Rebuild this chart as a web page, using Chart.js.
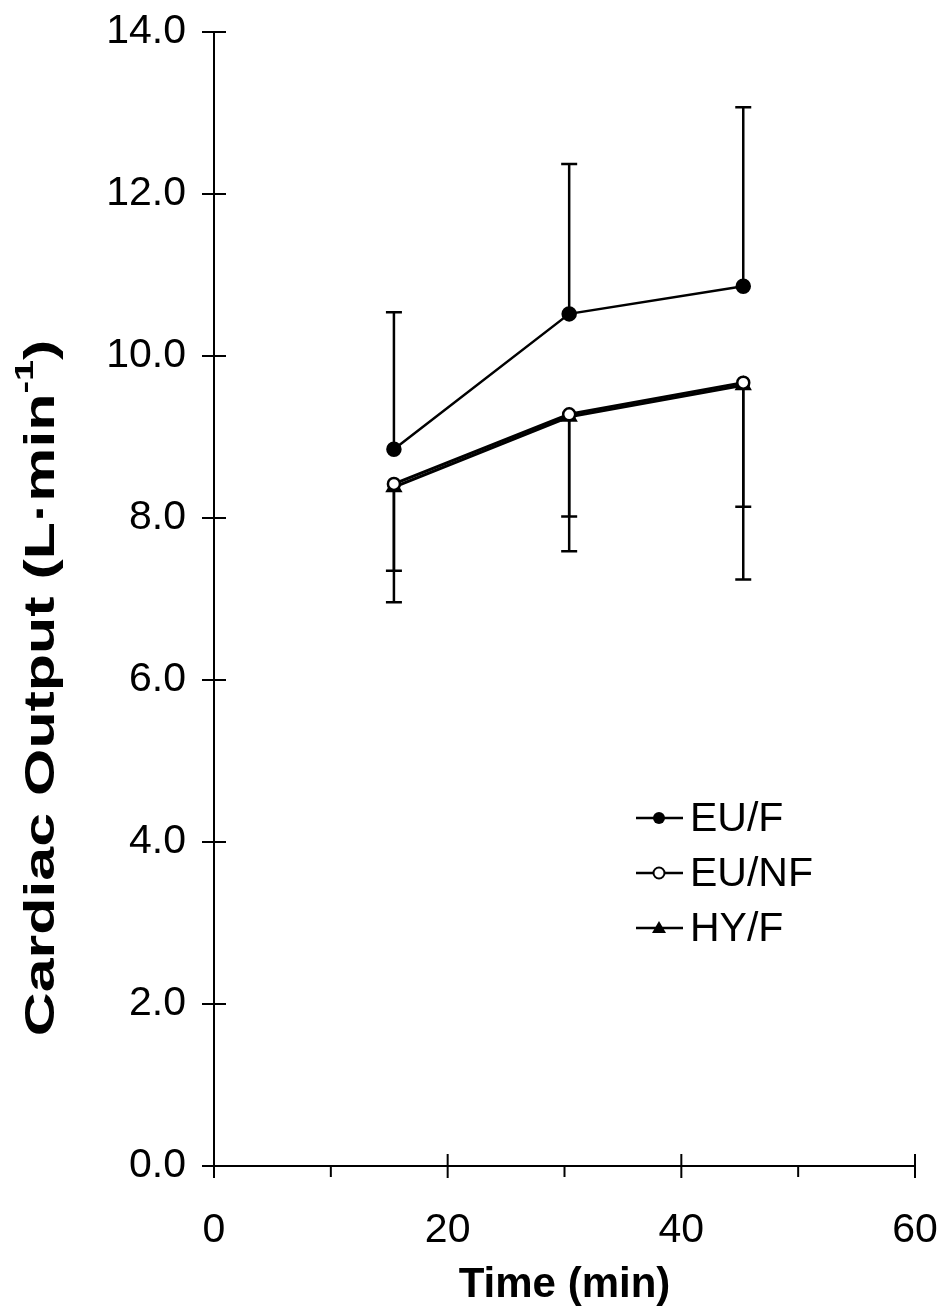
<!DOCTYPE html>
<html>
<head>
<meta charset="utf-8">
<script src="https://cdn.jsdelivr.net/npm/chart.js@4.4.1/dist/chart.umd.min.js"></script>
<style>
  html, body { margin: 0; padding: 0; background: #fff; }
  #wrap { width: 943px; height: 1306px; }
</style>
</head>
<body>
<div id="wrap"><canvas id="chart" width="943" height="1306"></canvas></div>
<script>
/* ---------------- DATA ---------------- */
const times = [15.4, 30.4, 45.3];
const seriesNames = ["EU/F", "EU/NF", "HY/F"];
const euF = [8.85, 10.52, 10.86];
const euFUpper = [10.54, 12.37, 13.07];
const euNF = [8.42, 9.28, 9.67];
const euNFLower = [6.96, 7.59, 7.24];
const hyF = [8.38, 9.25, 9.64];
const hyFLower = [7.35, 8.02, 8.14];
const yTicks = [0, 2, 4, 6, 8, 10, 12, 14];
const xTicks = [0, 20, 40, 60];
const xMinorTicks = [10, 30, 50];

const FONT = "'Liberation Sans', Arial, sans-serif";
const pts = (ys) => ys.map((y, i) => ({ x: times[i], y }));

/* ---------------- CUSTOM DRAWING ---------------- */
const extras = {
  id: "extras",
  beforeDatasetsDraw(chart) {
    const { ctx, scales: { x, y } } = chart;
    ctx.save();
    ctx.strokeStyle = "#000";
    ctx.lineWidth = 2.5;
    const bar = (t, from, to) => {
      const px = x.getPixelForValue(t);
      const y0 = y.getPixelForValue(from);
      const y1 = y.getPixelForValue(to);
      ctx.beginPath();
      ctx.moveTo(px, y0);
      ctx.lineTo(px, y1);
      ctx.moveTo(px - 8, y1);
      ctx.lineTo(px + 8, y1);
      ctx.stroke();
    };
    times.forEach((t, i) => {
      bar(t, euF[i], euFUpper[i]);
      bar(t, euNF[i], euNFLower[i]);
      bar(t, hyF[i], hyFLower[i]);
    });
    ctx.restore();
  },
  afterDraw(chart) {
    const { ctx, scales: { x, y } } = chart;
    const axX = x.getPixelForValue(0);
    const axY = y.getPixelForValue(0);
    ctx.save();
    ctx.strokeStyle = "#000";
    ctx.lineWidth = 2;
    // y ticks cross the axis
    yTicks.forEach((v) => {
      const py = y.getPixelForValue(v);
      ctx.beginPath();
      ctx.moveTo(axX - 12, py);
      ctx.lineTo(axX + 12, py);
      ctx.stroke();
    });
    xTicks.forEach((v) => {
      const px = x.getPixelForValue(v);
      ctx.beginPath();
      ctx.moveTo(px, axY - 12);
      ctx.lineTo(px, axY + 12);
      ctx.stroke();
    });
    xMinorTicks.forEach((v) => {
      const px = x.getPixelForValue(v);
      ctx.beginPath();
      ctx.moveTo(px, axY);
      ctx.lineTo(px, axY + 11);
      ctx.stroke();
    });

    // legend
    const rows = [818, 873, 928];
    ctx.font = `41px ${FONT}`;
    ctx.textBaseline = "middle";
    ctx.fillStyle = "#000";
    seriesNames.forEach((name, i) => {
      const ry = rows[i];
      ctx.lineWidth = 2.5;
      ctx.beginPath();
      ctx.moveTo(636, ry);
      ctx.lineTo(683, ry);
      ctx.stroke();
      ctx.beginPath();
      if (i === 0) {
        ctx.arc(659, ry, 6, 0, Math.PI * 2);
        ctx.fill();
      } else if (i === 1) {
        ctx.arc(659, ry, 5.5, 0, Math.PI * 2);
        ctx.fillStyle = "#fff";
        ctx.fill();
        ctx.lineWidth = 2;
        ctx.stroke();
        ctx.fillStyle = "#000";
      } else {
        ctx.moveTo(659, ry - 7);
        ctx.lineTo(666, ry + 5);
        ctx.lineTo(652, ry + 5);
        ctx.closePath();
        ctx.fill();
      }
      ctx.fillText(name, 690, ry + 2);
    });

    // y axis title with superscript (stretched along its length like the scan)
    ctx.translate(42, 688);
    ctx.rotate(-Math.PI / 2);
    ctx.scale(1.45, 1);
    const main = "Cardiac Output (L·min";
    const sup = "-1";
    const end = ")";
    ctx.font = `bold 42px ${FONT}`;
    const wMain = ctx.measureText(main).width;
    const wEnd = ctx.measureText(end).width;
    ctx.font = `bold 26px ${FONT}`;
    const wSup = ctx.measureText(sup).width;
    let cx = -(wMain + wSup + wEnd) / 2;
    ctx.textAlign = "left";
    ctx.font = `bold 42px ${FONT}`;
    ctx.fillText(main, cx, 0);
    cx += wMain;
    ctx.font = `bold 26px ${FONT}`;
    ctx.fillText(sup, cx, -16);
    cx += wSup;
    ctx.font = `bold 42px ${FONT}`;
    ctx.fillText(end, cx, 0);
    ctx.restore();
  },
};

/* ---------------- CHART ---------------- */
new Chart(document.getElementById("chart"), {
  type: "line",
  data: {
    datasets: [
      {
        label: seriesNames[0],
        data: pts(euF),
        borderColor: "#000",
        backgroundColor: "#000",
        borderWidth: 2.5,
        pointRadius: 6.5,
        pointStyle: "circle",
      },
      {
        label: seriesNames[1],
        data: pts(euNF),
        borderColor: "#000",
        backgroundColor: "#fff",
        borderWidth: 3,
        pointRadius: 6,
        pointBorderWidth: 2.5,
        pointStyle: "circle",
      },
      {
        label: seriesNames[2],
        data: pts(hyF),
        borderColor: "#000",
        backgroundColor: "#000",
        borderWidth: 3,
        pointRadius: 7,
        pointStyle: "triangle",
      },
    ],
  },
  options: {
    responsive: false,
    animation: false,
    devicePixelRatio: 1,
    layout: { padding: { top: 32, right: 28, left: 0, bottom: 0 } },
    plugins: { legend: { display: false }, tooltip: { enabled: false } },
    scales: {
      x: {
        type: "linear",
        min: 0,
        max: 60,
        afterFit: (s) => { s.height = 140; s.paddingLeft = 0; s.paddingRight = 0; },
        afterBuildTicks: (s) => { s.ticks = xTicks.map((v) => ({ value: v })); },
        grid: { display: false, drawTicks: false },
        border: { display: true, color: "#000", width: 2 },
        ticks: { color: "#000", padding: 40, font: { family: FONT, size: 41 }, maxRotation: 0 },
        title: { display: true, text: "Time (min)", color: "#000", padding: { top: 0, bottom: -5 }, font: { family: FONT, size: 42, weight: "bold" } },
      },
      y: {
        min: 0,
        max: 14,
        afterFit: (s) => { s.width = 214; s.paddingTop = 0; s.paddingBottom = 0; },
        afterBuildTicks: (s) => { s.ticks = yTicks.map((v) => ({ value: v })); },
        grid: { display: false, drawTicks: false },
        border: { display: true, color: "#000", width: 2 },
        ticks: { color: "#000", padding: 28, font: { family: FONT, size: 41 }, callback: (v) => v.toFixed(1) },
      },
    },
  },
  plugins: [extras],
});
</script>
</body>
</html>
